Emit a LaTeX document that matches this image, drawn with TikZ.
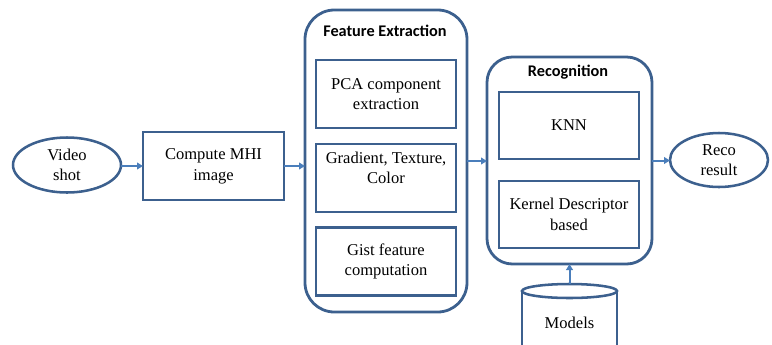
\documentclass[tikz,border=0pt]{standalone}
\usepackage{fontspec}
\setmainfont{Liberation Serif}
\newfontfamily\bodyfont{Liberation Serif}
\newfontfamily\titlefont{Carlito}
\usetikzlibrary{arrows.meta,shapes.geometric}
\definecolor{bord}{RGB}{60,96,142}
\definecolor{arr}{RGB}{74,126,187}
\tikzset{
  txt/.style={font=\bodyfont\fontsize{12.4pt}{15.5pt}\selectfont, align=center, text=black},
  box/.style={txt, draw=bord, line width=1.9pt, rectangle, inner sep=0pt, outer sep=0pt, minimum width=105pt, minimum height=51pt},
  oval/.style={txt, draw=bord, line width=1.9pt, ellipse, inner sep=0pt, outer sep=0pt},
  container/.style={draw=bord, line width=2.1pt, rectangle, inner sep=0pt, outer sep=0pt},
  title/.style={font=\titlefont\bfseries\fontsize{12.2pt}{14pt}\selectfont, text=black},
  flow/.style={draw=arr, line width=1.5pt, -{Triangle[width=5pt,length=4.5pt]}}
}
\begin{document}
\begin{tikzpicture}[x=0.75pt,y=-0.75pt]
\useasboundingbox (0,0) rectangle (772,344);
\begin{scope}
\clip (0,0) rectangle (772,344);
% containers
\node[container, rounded corners=22pt, minimum width=121.5pt, minimum height=226.5pt] (fe) at (386,161) {};
\node[container, rounded corners=19pt, minimum width=123.75pt, minimum height=155.25pt] (rec) at (569.5,160.5) {};
\node[title] (fetitle) at (385,31) {Feature Extraction};
\node[title] (rectitle) at (568,72) {Recognition};
% left
\node[oval, minimum width=81pt, minimum height=41.25pt] (video) at (67,165) {Video\\shot};
\node[box, minimum width=105.75pt] (mhi) at (213.5,166) {Compute MHI\\image};
% feature boxes
\node[box] (pca) at (386,94) {PCA component\\extraction};
\node[box] (grad) at (386,178) {Gradient, Texture,\\Color\\~};
\node[box] (gist) at (386,261.5) {Gist feature\\computation};
% recognition boxes
\node[box, minimum height=50.25pt] (knn) at (569,125.5) {KNN};
\node[box, minimum height=50.25pt] (kern) at (569,214.5) {Kernel Descriptor\\based};
% result
\node[oval, minimum width=73.5pt, minimum height=40.5pt] (reco) at (719,160) {Reco\\result};
% cylinder
\draw[bord, line width=1.9pt] (522,291) -- (522,360) (617,291) -- (617,360);
\draw[bord, line width=1.9pt, fill=white] (569.5,291) ellipse [x radius=47.5, y radius=7];
\coordinate (mtop) at (569.5,284);
\node[txt] (models) at (569.5,323) {Models};
% arrows
\draw[flow] (video.east |- mhi.west) -- (mhi.west);
\draw[flow] (mhi.east) -- (mhi.east -| fe.west);
\draw[flow] (fe.east) -- (fe.east -| rec.west);
\draw[flow] (rec.east) -- (rec.east -| reco.west);
\draw[flow] (mtop) -- (mtop |- rec.south);
\end{scope}
\end{tikzpicture}
\end{document}
